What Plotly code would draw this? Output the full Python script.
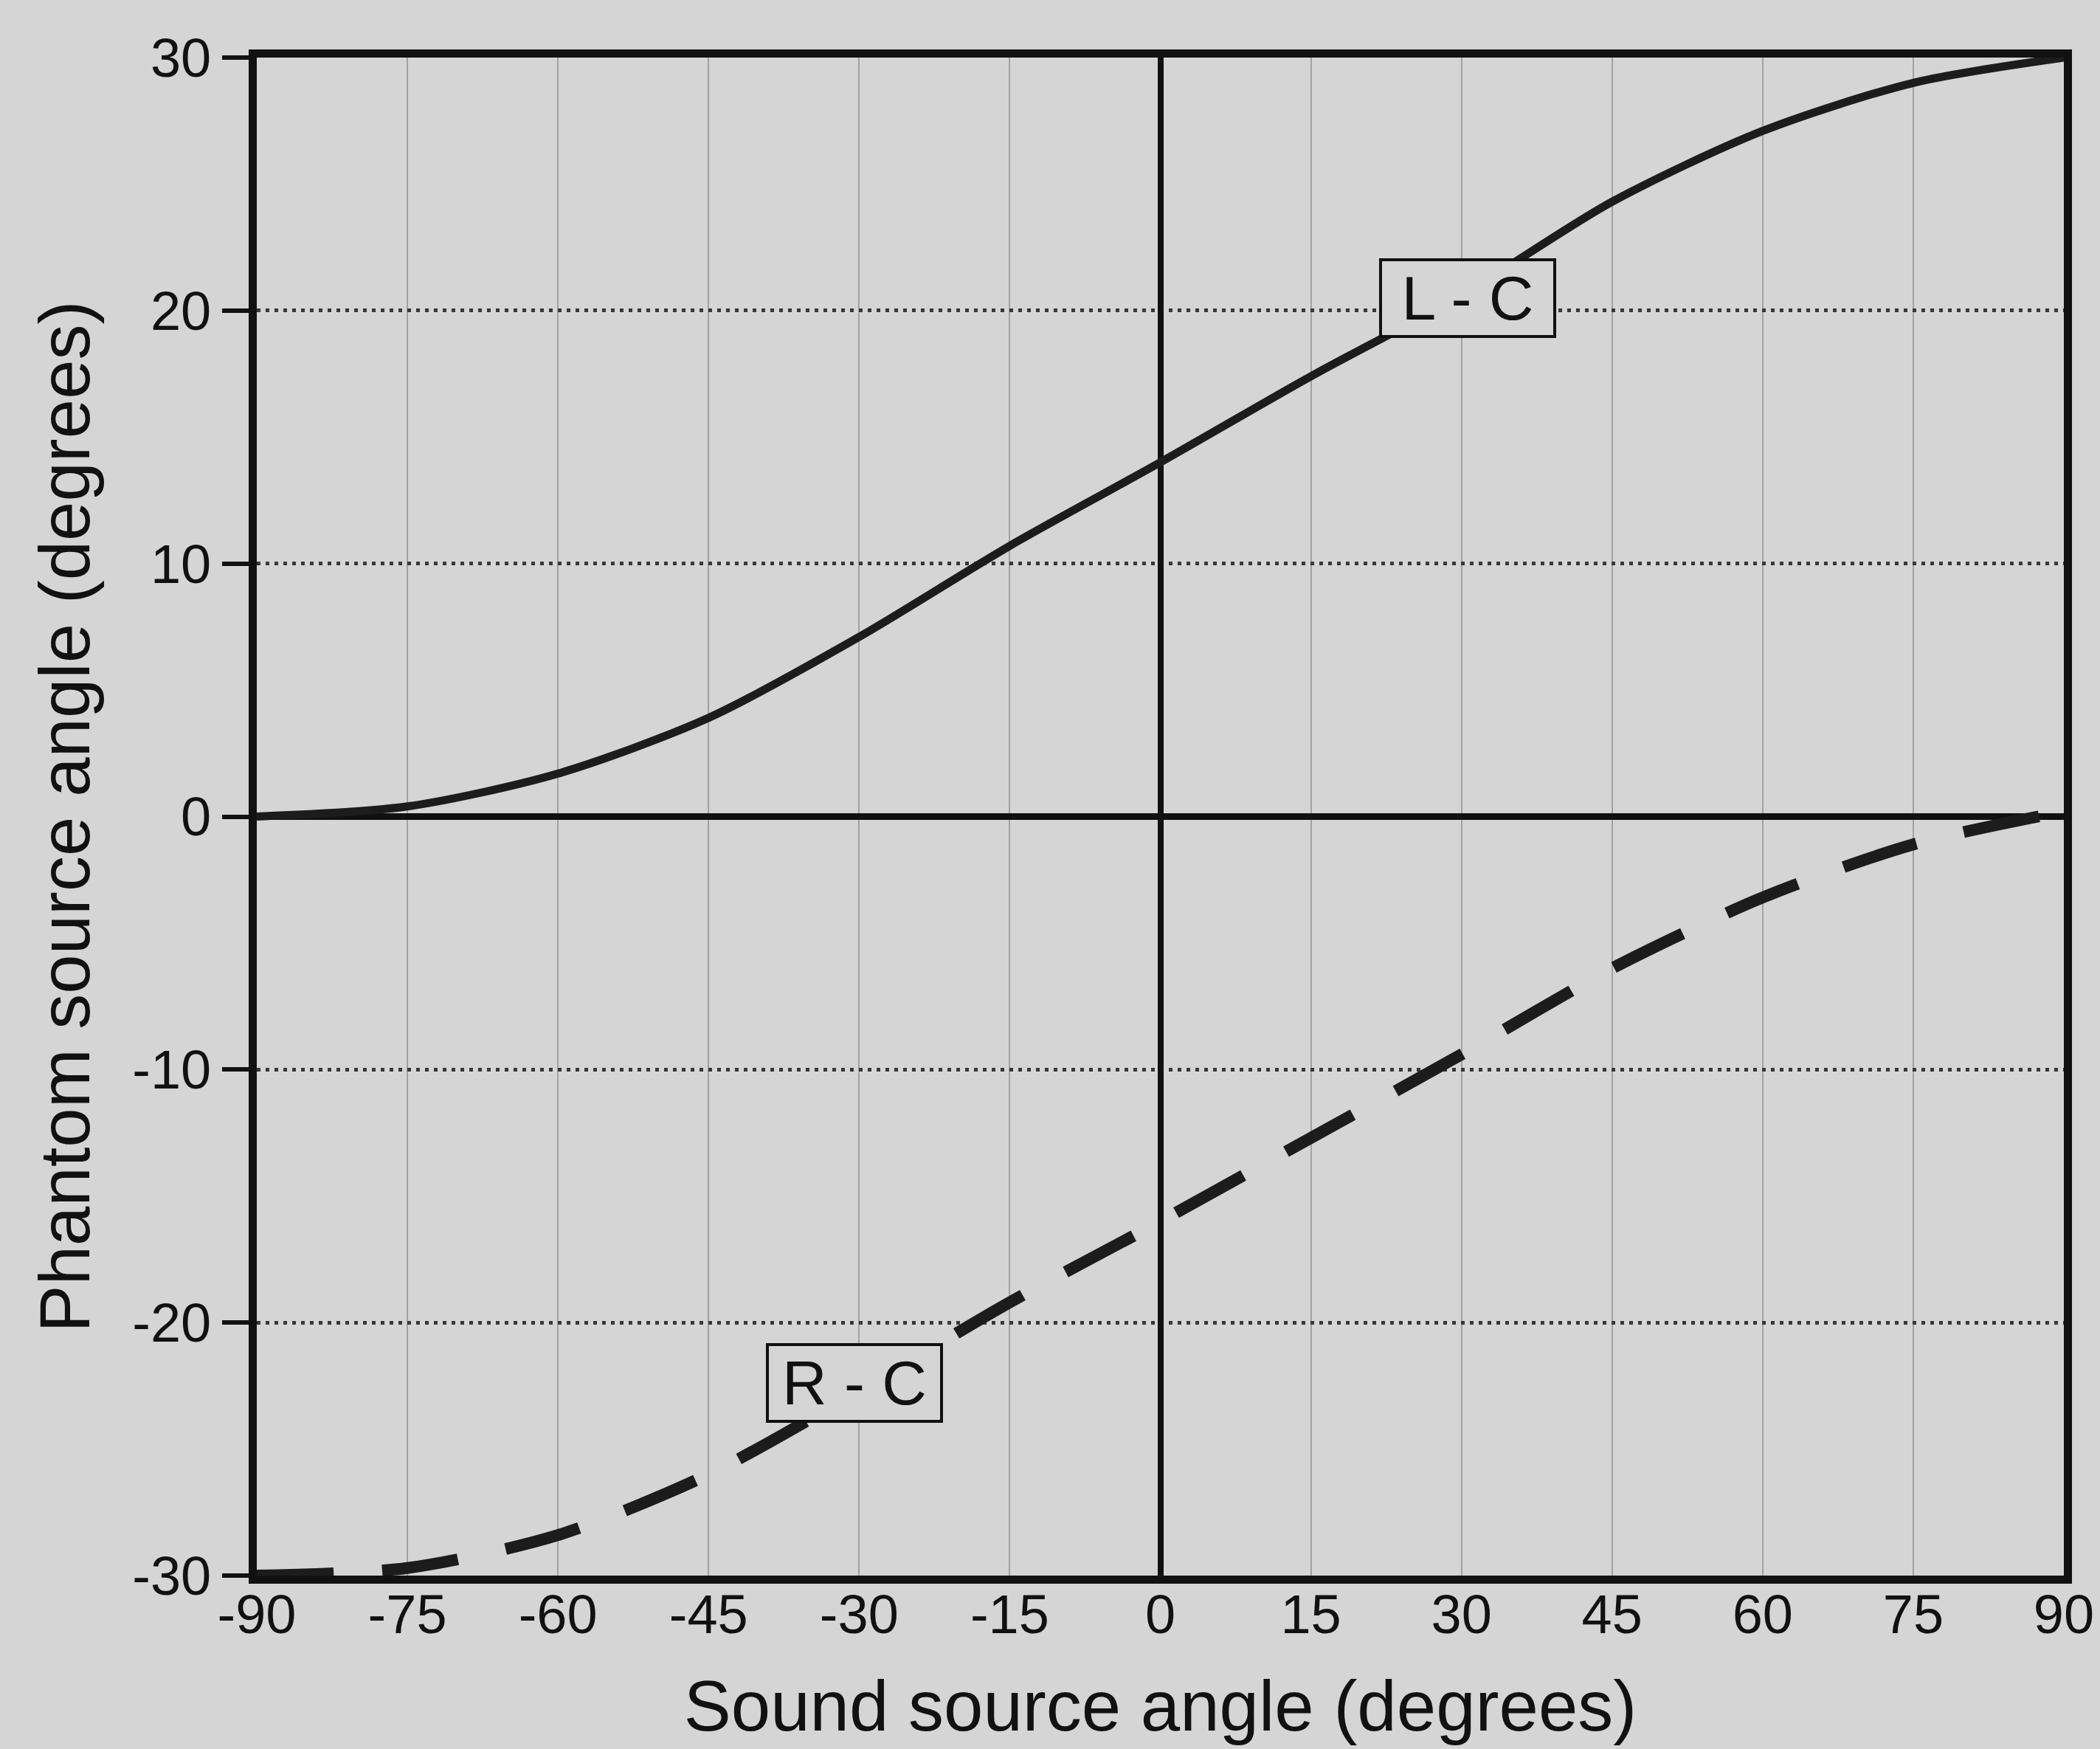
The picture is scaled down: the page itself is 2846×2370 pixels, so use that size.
import plotly.graph_objects as go

# ---- data ----
sound_angle = [-90, -75, -60, -45, -30, -15, 0, 15, 30, 45, 60, 75, 90]
phantom_lc = [0.0, 0.4, 1.7, 3.9, 7.1, 10.7, 14.0, 17.4, 20.6, 24.3, 27.1, 29.0, 30.0]
phantom_rc = [-30.0, -29.7, -28.4, -26.0, -22.7, -19.2, -16.0, -12.7, -9.4, -6.0, -3.2, -1.1, 0.2]

x_ticks = [-90, -75, -60, -45, -30, -15, 0, 15, 30, 45, 60, 75, 90]
y_ticks = [-30, -20, -10, 0, 10, 20, 30]

labels = [("L - C", 30.6, 20.5), ("R - C", -30.5, -22.4)]

BG = "rgb(213,213,213)"
FONT = "Liberation Sans, Arial, Helvetica, sans-serif"

fig = go.Figure()
fig.add_trace(go.Scatter(
    x=sound_angle, y=phantom_lc, mode="lines", name="L - C",
    line=dict(color="#1c1c1c", width=11, shape="spline", smoothing=0.8),
))
fig.add_trace(go.Scatter(
    x=sound_angle, y=phantom_rc, mode="lines", name="R - C",
    line=dict(color="#1c1c1c", width=16, shape="spline", smoothing=0.8,
              dash="104px,66px"),
))

for text, ax_x, ax_y in labels:
    fig.add_annotation(
        x=ax_x, y=ax_y, xref="x", yref="y", text=text, showarrow=False,
        font=dict(family=FONT, size=84, color="#111"),
        bgcolor=BG, bordercolor="#111", borderwidth=4, borderpad=0,
        width=232, height=100,
    )

fig.update_layout(
    width=2846, height=2370,
    margin=dict(l=348, r=49, t=78, b=235),
    paper_bgcolor=BG, plot_bgcolor=BG,
    showlegend=False,
    font=dict(family=FONT, color="#111"),
)

fig.update_xaxes(
    range=[-90, 90], tickmode="array", tickvals=x_ticks,
    ticktext=[str(v) for v in x_ticks],
    tickfont=dict(size=74, family=FONT, color="#111"),
    ticklabelstandoff=-22,
    showgrid=True, gridcolor="#a2a2a2", gridwidth=2,
    zeroline=True, zerolinecolor="#111", zerolinewidth=8,
    showline=True, linecolor="#111", linewidth=11, mirror=True,
    ticks="", automargin=False,
    title=dict(text="Sound source angle (degrees)",
               font=dict(size=96, family=FONT, color="#111"), standoff=55),
)
fig.update_yaxes(
    range=[-30, 30], tickmode="array", tickvals=y_ticks,
    ticktext=[str(v) for v in y_ticks],
    tickfont=dict(size=74, family=FONT, color="#111"),
    showgrid=True, gridcolor="#383838", gridwidth=5, griddash="5px,7px",
    zeroline=True, zerolinecolor="#111", zerolinewidth=9,
    showline=True, linecolor="#111", linewidth=11, mirror=True,
    ticks="outside", ticklen=36, tickwidth=6, tickcolor="#111",
    automargin=False,
    title=dict(text="Phantom source angle (degrees)",
               font=dict(size=96, family=FONT, color="#111"), standoff=30),
)

fig.write_html("out.html")
